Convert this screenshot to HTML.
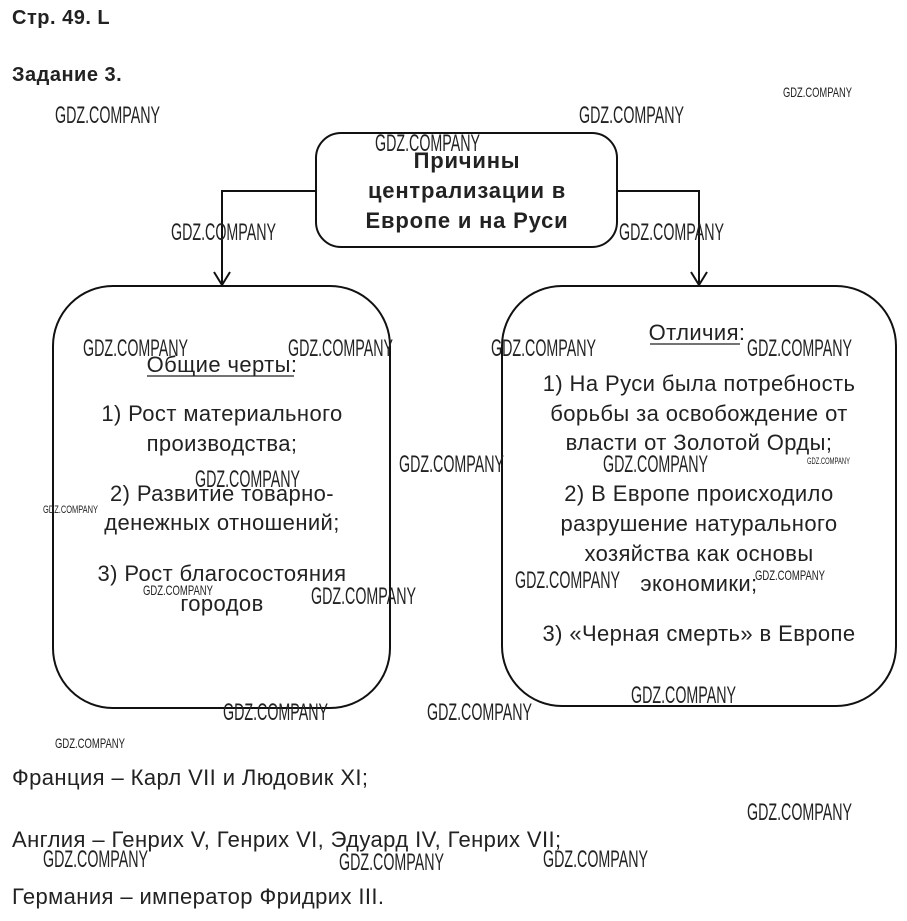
<!DOCTYPE html>
<html><head><meta charset="utf-8"><style>
html,body{margin:0;padding:0;background:#fff;}
svg{display:block;}
.t{font-family:"Liberation Sans","DejaVu Sans",sans-serif;font-size:22px;letter-spacing:0.4px;fill:#222;}
.b{font-family:"Liberation Sans","DejaVu Sans",sans-serif;font-weight:bold;fill:#222;}
.w{font-family:"Liberation Sans","DejaVu Sans",sans-serif;font-size:24px;fill:#222;}
.ws{font-family:"Liberation Sans","DejaVu Sans",sans-serif;font-size:14px;fill:#222;}
</style></head><body>
<svg width="907" height="921" viewBox="0 0 907 921" xmlns="http://www.w3.org/2000/svg">
<text class="b" x="12" y="24" font-size="20" letter-spacing="0.5">Стр. 49. L</text>
<text class="b" x="12" y="81" font-size="20" letter-spacing="0.5">Задание 3.</text>

<rect x="316" y="133" width="301" height="114" rx="25" fill="none" stroke="#111" stroke-width="2"/>
<g class="b" font-size="22" letter-spacing="0.8" text-anchor="middle">
<text x="467" y="168">Причины</text>
<text x="467" y="198">централизации в</text>
<text x="467" y="228">Европе и на Руси</text>
</g>

<polyline points="316,191 222,191 222,284" fill="none" stroke="#111" stroke-width="2"/>
<polyline points="214,272 222,285 230,272" fill="none" stroke="#111" stroke-width="2"/>
<polyline points="617,191 699,191 699,284" fill="none" stroke="#111" stroke-width="2"/>
<polyline points="691,272 699,285 707,272" fill="none" stroke="#111" stroke-width="2"/>

<rect x="53" y="286" width="337" height="422" rx="60" fill="none" stroke="#111" stroke-width="2"/>
<rect x="502" y="286" width="394" height="420" rx="60" fill="none" stroke="#111" stroke-width="2"/>

<g class="t" text-anchor="middle">
<text x="222" y="372">Общие черты:</text>
<text x="222" y="421">1) Рост материального</text>
<text x="222" y="451">производства;</text>
<text x="222" y="501">2) Развитие товарно-</text>
<text x="222" y="530">денежных отношений;</text>
<text x="222" y="581">3) Рост благосостояния</text>
<text x="222" y="611">городов</text>

<text x="697" y="340">Отличия:</text>
<text x="699" y="391">1) На Руси была потребность</text>
<text x="699" y="421">борьбы за освобождение от</text>
<text x="699" y="450">власти от Золотой Орды;</text>
<text x="699" y="501">2) В Европе происходило</text>
<text x="699" y="531">разрушение натурального</text>
<text x="699" y="561">хозяйства как основы</text>
<text x="699" y="591">экономики;</text>
<text x="699" y="641">3) «Черная смерть» в Европе</text>
</g>
<line x1="147" y1="376" x2="294" y2="376" stroke="#222" stroke-width="1.3"/>
<line x1="650" y1="344" x2="740" y2="344" stroke="#222" stroke-width="1.3"/>

<text class="t" x="12" y="785">Франция – Карл VII и Людовик XI;</text>
<text class="t" x="12" y="847">Англия – Генрих V, Генрих VI, Эдуард IV, Генрих VII;</text>
<text class="t" x="12" y="904">Германия – император Фридрих III.</text>

<g class="w">
<text x="55" y="123" textLength="105" lengthAdjust="spacingAndGlyphs">GDZ.COMPANY</text>
<text x="579" y="123" textLength="105" lengthAdjust="spacingAndGlyphs">GDZ.COMPANY</text>
<text x="375" y="151" textLength="105" lengthAdjust="spacingAndGlyphs">GDZ.COMPANY</text>
<text x="171" y="240" textLength="105" lengthAdjust="spacingAndGlyphs">GDZ.COMPANY</text>
<text x="619" y="240" textLength="105" lengthAdjust="spacingAndGlyphs">GDZ.COMPANY</text>
<text x="83" y="356" textLength="105" lengthAdjust="spacingAndGlyphs">GDZ.COMPANY</text>
<text x="288" y="356" textLength="105" lengthAdjust="spacingAndGlyphs">GDZ.COMPANY</text>
<text x="491" y="356" textLength="105" lengthAdjust="spacingAndGlyphs">GDZ.COMPANY</text>
<text x="747" y="356" textLength="105" lengthAdjust="spacingAndGlyphs">GDZ.COMPANY</text>
<text x="195" y="487" textLength="105" lengthAdjust="spacingAndGlyphs">GDZ.COMPANY</text>
<text x="399" y="472" textLength="105" lengthAdjust="spacingAndGlyphs">GDZ.COMPANY</text>
<text x="603" y="472" textLength="105" lengthAdjust="spacingAndGlyphs">GDZ.COMPANY</text>
<text x="311" y="604" textLength="105" lengthAdjust="spacingAndGlyphs">GDZ.COMPANY</text>
<text x="515" y="588" textLength="105" lengthAdjust="spacingAndGlyphs">GDZ.COMPANY</text>
<text x="223" y="720" textLength="105" lengthAdjust="spacingAndGlyphs">GDZ.COMPANY</text>
<text x="427" y="720" textLength="105" lengthAdjust="spacingAndGlyphs">GDZ.COMPANY</text>
<text x="631" y="703" textLength="105" lengthAdjust="spacingAndGlyphs">GDZ.COMPANY</text>
<text x="747" y="820" textLength="105" lengthAdjust="spacingAndGlyphs">GDZ.COMPANY</text>
<text x="43" y="867" textLength="105" lengthAdjust="spacingAndGlyphs">GDZ.COMPANY</text>
<text x="339" y="870" textLength="105" lengthAdjust="spacingAndGlyphs">GDZ.COMPANY</text>
<text x="543" y="867" textLength="105" lengthAdjust="spacingAndGlyphs">GDZ.COMPANY</text>
</g>
<g class="ws">
<text x="783" y="97" textLength="69" lengthAdjust="spacingAndGlyphs">GDZ.COMPANY</text>
<text x="143" y="595" textLength="70" lengthAdjust="spacingAndGlyphs">GDZ.COMPANY</text>
<text x="755" y="580" textLength="70" lengthAdjust="spacingAndGlyphs">GDZ.COMPANY</text>
<text x="55" y="748" textLength="70" lengthAdjust="spacingAndGlyphs">GDZ.COMPANY</text>
<text x="43" y="513" textLength="55" lengthAdjust="spacingAndGlyphs" font-size="11">GDZ.COMPANY</text>
<text x="807" y="464" textLength="43" lengthAdjust="spacingAndGlyphs" font-size="9">GDZ.COMPANY</text>
</g>
</svg>
</body></html>
